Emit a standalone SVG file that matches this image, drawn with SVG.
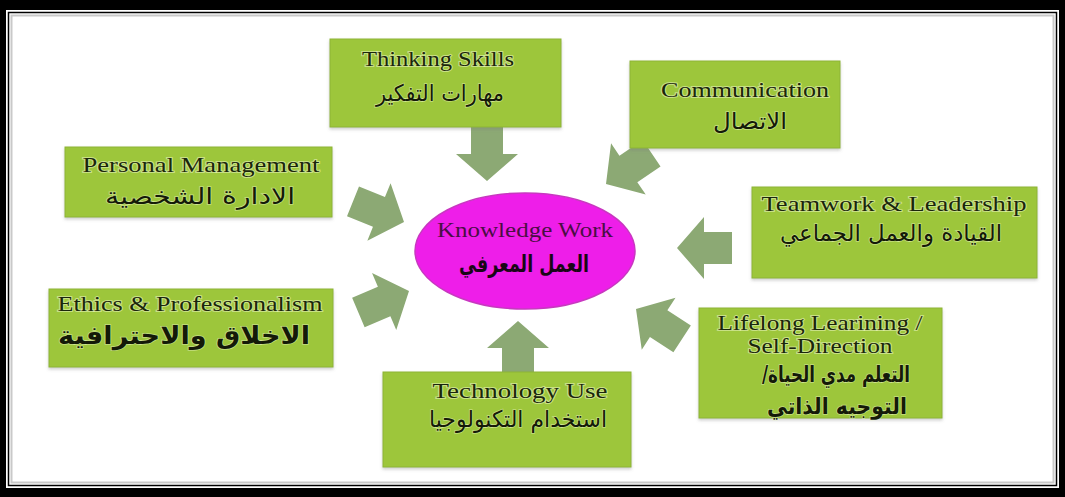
<svg xmlns="http://www.w3.org/2000/svg" width="1065" height="497" viewBox="0 0 1065 497">
  <style>
    .box { fill: #9dc63b; stroke: #8db434; stroke-width: 1; filter: url(#shadow); }
    .en { font-family: "Liberation Serif", "Times New Roman", serif; font-size: 21px; fill: #1a260b; text-anchor: middle; stroke: #eef7c8; stroke-width: 2; stroke-opacity: 0.55; paint-order: stroke; }
    .ar { font-family: "DejaVu Sans", "Noto Sans", sans-serif; font-size: 23px; fill: #141a08; text-anchor: middle; direction: rtl; stroke: #eef7c8; stroke-width: 1.5; stroke-opacity: 0.5; paint-order: stroke; }
    .arb { font-weight: bold; }
    .arrow { fill: #8ca974; }
    .hub { fill: #ee1ee9; stroke: #c838c0; stroke-width: 1.5; }
    .hub-en { font-family: "Liberation Serif", "Times New Roman", serif; font-size: 21px; fill: #4a0e44; text-anchor: middle; }
    .hub-ar { font-family: "DejaVu Sans", sans-serif; font-size: 24px; font-weight: bold; fill: #1a0616; text-anchor: middle; direction: rtl; }
  </style>
  <defs>
    <filter id="shadow" x="-5%" y="-5%" width="110%" height="120%">
      <feDropShadow dx="0" dy="2" stdDeviation="1.5" flood-color="#7a7a7a" flood-opacity="0.35"/>
    </filter>
    <!-- block arrow pointing along +x, tip at the origin -->
    <polygon id="blockArrow" class="arrow" points="0,0 -27,-31 -27,-16 -55,-16 -55,16 -27,16 -27,31"/>
  </defs>

  <!-- double frame -->
  <rect x="0" y="0" width="1065" height="497" fill="#000"/>
  <rect x="6" y="10" width="1053" height="478" fill="#fff"/>
  <rect x="8.5" y="12.5" width="1048" height="473" fill="none" stroke="#000" stroke-width="1.5"/>
  <rect x="11.5" y="15.5" width="1042" height="467" fill="#fff" stroke="#c9c9c9" stroke-width="2"/>

  <!-- connectors: block arrows pointing at the hub -->
  <g id="connectors">
    <use href="#blockArrow" transform="translate(487,181) rotate(90)"/>
    <use href="#blockArrow" transform="translate(606,184) rotate(146)"/>
    <use href="#blockArrow" transform="translate(404,222) rotate(22)"/>
    <use href="#blockArrow" transform="translate(677,248) rotate(180)"/>
    <use href="#blockArrow" transform="translate(409,291) rotate(-23)"/>
    <use href="#blockArrow" transform="translate(518,321) rotate(-90)"/>
    <use href="#blockArrow" transform="translate(636,309) rotate(-147)"/>
  </g>

  <g id="hub">
    <ellipse class="hub" cx="525" cy="251" rx="110" ry="58"/>
    <text class="hub-en" x="525" y="237" textLength="176" lengthAdjust="spacingAndGlyphs">Knowledge Work</text>
    <text class="hub-ar" x="524" y="272" textLength="130" lengthAdjust="spacingAndGlyphs">العمل المعرفي</text>
  </g>

  <g id="thinking-skills">
    <rect class="box" x="330" y="39" width="231" height="88"/>
    <text class="en" x="438" y="66" textLength="152" lengthAdjust="spacingAndGlyphs">Thinking Skills</text>
    <text class="ar" x="440" y="101" textLength="128" lengthAdjust="spacingAndGlyphs">مهارات التفكير</text>
  </g>

  <g id="communication">
    <rect class="box" x="630" y="61" width="210" height="87"/>
    <text class="en" x="745" y="97" textLength="168" lengthAdjust="spacingAndGlyphs">Communication</text>
    <text class="ar" x="750" y="129" textLength="74" lengthAdjust="spacingAndGlyphs">الاتصال</text>
  </g>

  <g id="personal-management">
    <rect class="box" x="65" y="147" width="267" height="70"/>
    <text class="en" x="201" y="172" textLength="237" lengthAdjust="spacingAndGlyphs">Personal Management</text>
    <text class="ar" x="200" y="204" textLength="190" lengthAdjust="spacingAndGlyphs">الادارة الشخصية</text>
  </g>

  <g id="teamwork-leadership">
    <rect class="box" x="752" y="187" width="285" height="91"/>
    <text class="en" x="894" y="211" textLength="265" lengthAdjust="spacingAndGlyphs">Teamwork &amp; Leadership</text>
    <text class="ar" x="891" y="241" textLength="222" lengthAdjust="spacingAndGlyphs">القيادة والعمل الجماعي</text>
  </g>

  <g id="ethics-professionalism">
    <rect class="box" x="49" y="289" width="284" height="78"/>
    <text class="en" x="190" y="311" textLength="265" lengthAdjust="spacingAndGlyphs">Ethics &amp; Professionalism</text>
    <text class="ar arb" x="184" y="344" textLength="252" lengthAdjust="spacingAndGlyphs" style="font-size:25px">الاخلاق والاحترافية</text>
  </g>

  <g id="lifelong-learning">
    <rect class="box" x="699" y="308" width="243" height="110"/>
    <text class="en" x="820" y="330" textLength="205" lengthAdjust="spacingAndGlyphs">Lifelong Learining /</text>
    <text class="en" x="820" y="353" textLength="145" lengthAdjust="spacingAndGlyphs">Self-Direction</text>
    <text class="ar arb" x="836" y="382" textLength="148" lengthAdjust="spacingAndGlyphs">التعلم مدي الحياة/</text>
    <text class="ar arb" x="837" y="414" textLength="140" lengthAdjust="spacingAndGlyphs">التوجيه الذاتي</text>
  </g>

  <g id="technology-use">
    <rect class="box" x="383" y="372" width="248" height="95"/>
    <text class="en" x="520" y="398" textLength="175" lengthAdjust="spacingAndGlyphs">Technology Use</text>
    <text class="ar" x="518" y="427" textLength="178" lengthAdjust="spacingAndGlyphs">استخدام التكنولوجيا</text>
  </g>
</svg>
